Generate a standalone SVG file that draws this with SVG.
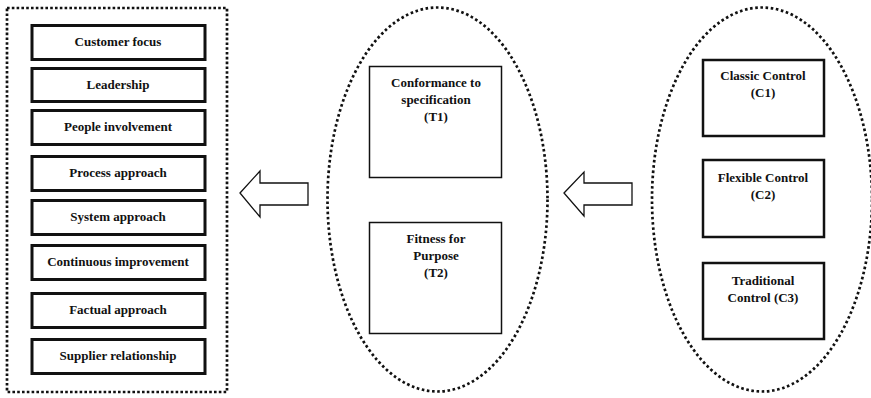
<svg xmlns="http://www.w3.org/2000/svg" width="871" height="398" viewBox="0 0 871 398">
  <style>
    text { font-family: "Liberation Serif", "Times New Roman", serif; font-weight: bold; font-size: 13px; fill: #111; text-anchor: middle; }
    .frame { fill: none; stroke: #111; stroke-width: 2.7; stroke-dasharray: 2.6 2.2; }
    .oval { fill: none; stroke: #111; stroke-width: 2.7; stroke-dasharray: 2.6 2.6; }
    .principle { fill: #fff; stroke: #111; stroke-width: 3; }
    .type { fill: #fff; stroke: #111; stroke-width: 1.5; }
    .control { fill: #fff; stroke: #111; stroke-width: 2.5; }
    .arrow { fill: #fff; stroke: #111; stroke-width: 1.3; stroke-linejoin: miter; }
  </style>
  <rect width="871" height="398" fill="#fff"/>

  <!-- Quality management principles -->
  <g id="principles">
    <rect class="frame" x="7" y="8" width="220" height="384"/>
    <g id="customer-focus"><rect class="principle" x="32" y="25.5" width="173" height="34"/><text x="118" y="46">Customer focus</text></g>
    <g id="leadership"><rect class="principle" x="32" y="68.5" width="173" height="33"/><text x="118" y="88.5">Leadership</text></g>
    <g id="people-involvement"><rect class="principle" x="32" y="110.5" width="173" height="34"/><text x="118" y="131">People involvement</text></g>
    <g id="process-approach"><rect class="principle" x="32" y="156.5" width="173" height="34"/><text x="118" y="177">Process approach</text></g>
    <g id="system-approach"><rect class="principle" x="32" y="200.5" width="173" height="34"/><text x="118" y="221">System approach</text></g>
    <g id="continuous-improvement"><rect class="principle" x="32" y="245.5" width="173" height="34"/><text x="118" y="266">Continuous improvement</text></g>
    <g id="factual-approach"><rect class="principle" x="32" y="293.5" width="173" height="34"/><text x="118" y="314">Factual approach</text></g>
    <g id="supplier-relationship"><rect class="principle" x="32" y="339.5" width="173" height="34"/><text x="118" y="360">Supplier relationship</text></g>
  </g>

  <!-- Quality types -->
  <g id="types">
    <ellipse class="oval" cx="437.5" cy="199.5" rx="110" ry="192"/>
    <g id="t1">
      <rect class="type" x="369.5" y="66.5" width="132" height="111"/>
      <text x="436" y="87">Conformance to</text>
      <text x="436" y="104">specification</text>
      <text x="436" y="121">(T1)</text>
    </g>
    <g id="t2">
      <rect class="type" x="369.5" y="222.5" width="132" height="111"/>
      <text x="436" y="242.5">Fitness for</text>
      <text x="436" y="259.5">Purpose</text>
      <text x="436" y="276.5">(T2)</text>
    </g>
  </g>

  <!-- Control approaches -->
  <g id="controls">
    <ellipse class="oval" cx="762" cy="199.5" rx="110" ry="192"/>
    <g id="c1">
      <rect class="control" x="703" y="60" width="121" height="76"/>
      <text x="763" y="80">Classic Control</text>
      <text x="763" y="97">(C1)</text>
    </g>
    <g id="c2">
      <rect class="control" x="703" y="160" width="121" height="77"/>
      <text x="763" y="182">Flexible Control</text>
      <text x="763" y="199">(C2)</text>
    </g>
    <g id="c3">
      <rect class="control" x="703" y="263" width="121" height="76"/>
      <text x="763" y="285">Traditional</text>
      <text x="763" y="302">Control (C3)</text>
    </g>
  </g>

  <!-- Block arrows between the groups -->
  <g id="connectors">
    <polygon class="arrow" points="240,193 260,171 260,183 308,183 308,205 260,205 260,217"/>
    <polygon class="arrow" points="564,193 584,172 584,183 632,183 632,205 584,205 584,216"/>
  </g>
</svg>
